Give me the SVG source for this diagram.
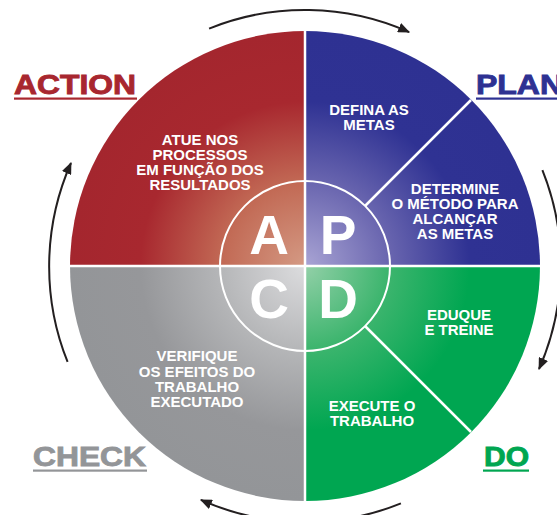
<svg xmlns="http://www.w3.org/2000/svg" width="557" height="515" viewBox="0 0 557 515">
  <defs>
    <radialGradient id="gRed" gradientUnits="userSpaceOnUse" cx="305" cy="266" r="235">
      <stop offset="0" stop-color="#D49A84"/>
      <stop offset="0.35" stop-color="#C26A55"/>
      <stop offset="0.7" stop-color="#A8282F"/>
      <stop offset="1" stop-color="#A4262E"/>
    </radialGradient>
    <radialGradient id="gBlue" gradientUnits="userSpaceOnUse" cx="305" cy="266" r="235">
      <stop offset="0" stop-color="#A9A4D4"/>
      <stop offset="0.35" stop-color="#6B67B0"/>
      <stop offset="0.7" stop-color="#2F3293"/>
      <stop offset="1" stop-color="#2E3192"/>
    </radialGradient>
    <radialGradient id="gGreen" gradientUnits="userSpaceOnUse" cx="305" cy="266" r="235">
      <stop offset="0" stop-color="#93D0A8"/>
      <stop offset="0.35" stop-color="#3DB56E"/>
      <stop offset="0.7" stop-color="#00A651"/>
      <stop offset="1" stop-color="#00A651"/>
    </radialGradient>
    <radialGradient id="gGray" gradientUnits="userSpaceOnUse" cx="305" cy="266" r="235">
      <stop offset="0" stop-color="#DCDCDE"/>
      <stop offset="0.35" stop-color="#B6B7B9"/>
      <stop offset="0.7" stop-color="#96979A"/>
      <stop offset="1" stop-color="#939598"/>
    </radialGradient>
    <marker id="arrow" viewBox="0 0 12 10" refX="11" refY="5" markerWidth="12" markerHeight="10" markerUnits="userSpaceOnUse" orient="auto">
      <path d="M0,0 L12,5 L0,10 Z" fill="#231F20"/>
    </marker>
    <style>
      .lbl { font-family: "Liberation Sans", Arial, sans-serif; font-weight: bold; font-size: 15px; fill: #FFFFFF; text-anchor: middle; }
      .big { font-family: "Liberation Sans", Arial, sans-serif; font-weight: bold; font-size: 55px; fill: #FFFFFF; text-anchor: middle; }
      .ttl { font-family: "Liberation Sans", Arial, sans-serif; font-weight: bold; font-size: 27px; stroke-width: 0.9; }
      .div { stroke: #FFFFFF; stroke-width: 2.5; fill: none; }
      .arc { stroke: #231F20; stroke-width: 2; fill: none; marker-end: url(#arrow); }
    </style>
  </defs>

  <g id="action">
    <path d="M305,266 L70,266 A235,235 0 0 1 305,31 Z" fill="url(#gRed)"/>
    <text class="lbl" x="200" y="145">ATUE NOS</text>
    <text class="lbl" x="200" y="160">PROCESSOS</text>
    <text class="lbl" x="200" y="175">EM FUNÇÃO DOS</text>
    <text class="lbl" x="200" y="190">RESULTADOS</text>
    <text class="ttl" x="14" y="94" fill="#A8272F" stroke="#A8272F" textLength="122" lengthAdjust="spacingAndGlyphs">ACTION</text>
    <rect x="14" y="97.5" width="123" height="2.2" fill="#A8272F"/>
  </g>

  <g id="plan">
    <path d="M305,266 L305,31 A235,235 0 0 1 540,266 Z" fill="url(#gBlue)"/>
    <text class="lbl" x="369" y="115">DEFINA AS</text>
    <text class="lbl" x="369" y="130">METAS</text>
    <text class="lbl" x="455" y="194">DETERMINE</text>
    <text class="lbl" x="455" y="209">O MÉTODO PARA</text>
    <text class="lbl" x="455" y="224">ALCANÇAR</text>
    <text class="lbl" x="455" y="239">AS METAS</text>
    <text class="ttl" x="476" y="94" fill="#2E3192" stroke="#2E3192" textLength="87" lengthAdjust="spacingAndGlyphs">PLAN</text>
    <rect x="476" y="97.5" width="81" height="2.2" fill="#2E3192"/>
  </g>

  <g id="do">
    <path d="M305,266 L540,266 A235,235 0 0 1 305,501 Z" fill="url(#gGreen)"/>
    <text class="lbl" x="459" y="320">EDUQUE</text>
    <text class="lbl" x="459" y="335">E TREINE</text>
    <text class="lbl" x="372" y="411">EXECUTE O</text>
    <text class="lbl" x="372" y="426">TRABALHO</text>
    <text class="ttl" x="484" y="466" fill="#00A651" stroke="#00A651" textLength="45" lengthAdjust="spacingAndGlyphs">DO</text>
    <rect x="483" y="469.5" width="46" height="2.2" fill="#00A651"/>
  </g>

  <g id="check">
    <path d="M305,266 L305,501 A235,235 0 0 1 70,266 Z" fill="url(#gGray)"/>
    <text class="lbl" x="197" y="361">VERIFIQUE</text>
    <text class="lbl" x="197" y="377">OS EFEITOS DO</text>
    <text class="lbl" x="197" y="392">TRABALHO</text>
    <text class="lbl" x="197" y="407">EXECUTADO</text>
    <text class="ttl" x="33" y="466" fill="#939598" stroke="#939598" textLength="113" lengthAdjust="spacingAndGlyphs">CHECK</text>
    <rect x="33" y="469.5" width="114" height="2.2" fill="#939598"/>
  </g>

  <g id="dividers">
    <line class="div" x1="305" y1="31" x2="305" y2="501"/>
    <line class="div" x1="70" y1="266" x2="540" y2="266"/>
    <line class="div" x1="365" y1="206" x2="471" y2="100"/>
    <line class="div" x1="365" y1="326" x2="471" y2="432"/>
  </g>

  <g id="center">
    <circle cx="305" cy="266" r="85" fill="none" stroke="#FFFFFF" stroke-width="2"/>
    <text class="big" x="269" y="254">A</text>
    <text class="big" x="338" y="254">P</text>
    <text class="big" x="269" y="318">C</text>
    <text class="big" x="338" y="318">D</text>
  </g>

  <g id="connectors">
    <path class="arc" d="M209.1,28.6 A256,256 0 0 1 409.1,32.1"/>
    <path class="arc" d="M542.4,170.1 A256,256 0 0 1 539.0,369.0"/>
    <path class="arc" d="M400.9,503.4 A256,256 0 0 1 200.9,499.9"/>
    <path class="arc" d="M67.6,361.9 A256,256 0 0 1 71.0,163.0"/>
  </g>
</svg>
